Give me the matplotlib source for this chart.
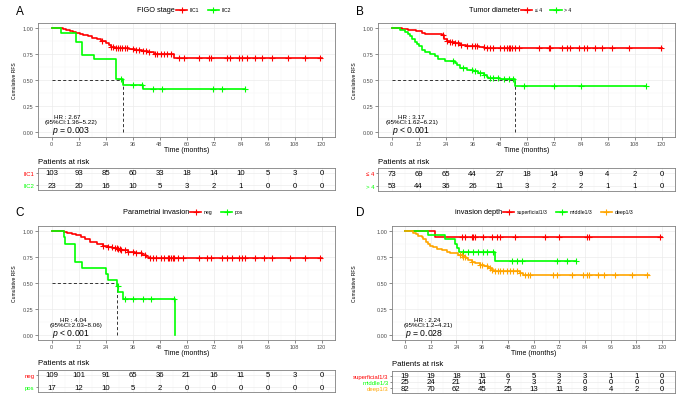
import numpy as np
import matplotlib.pyplot as plt
from matplotlib.lines import Line2D

plt.rcParams['font.family'] = ['Liberation Sans', 'DejaVu Sans']
plt.rcParams['mathtext.fontset'] = 'custom'
plt.rcParams['mathtext.it'] = 'Liberation Sans:italic'
plt.rcParams['mathtext.rm'] = 'Liberation Sans'

W, H = 685, 402
RED, GREEN, ORANGE = '#FF0000', '#00FF00', '#FFA500'
TIME_TICKS = [0, 12, 24, 36, 48, 60, 72, 84, 96, 108, 120]

# ---- A: FIGO stage ----
a_labels = ['IIC1', 'IIC2']
a_iic1_t = [0, 5, 6.5, 8, 9.5, 11, 12.5, 14, 16, 18, 20, 22, 24, 25.5, 26.5, 28, 34.5, 37, 40, 43, 45.5, 54.5]
a_iic1_s = [1.0, .99, .98, .97, .96, .95, .94, .93, .92, .91, .90, .88, .86, .84, .82, .81, .80, .79, .78, .77, .75, .71]
a_iic1_end = 120
a_iic1_cens = [22.5, 26.5, 27.5, 28.5, 29.5, 30.5, 31.5, 32.5, 33.5, 36, 37.5, 39, 40.5, 42, 43.5,
               45.8, 47, 48.5, 50, 51.5, 53, 56.7, 58.9, 65.5, 70, 70.7, 78, 79.5, 83.2, 84.7, 86.9,
               90.6, 93.5, 97.9, 105.3, 112.7, 119.3]
a_iic2_t = [0, 4, 11, 13.5, 19, 28.8, 31.7, 40.5]
a_iic2_s = [1.0, .957, .87, .74, .70, .51, .455, .41]
a_iic2_end = 86.2
a_iic2_cens = [30.9, 36.2, 40.2, 45, 49, 71.6, 75.8, 86.2]
a_risk_iic1 = [103, 93, 85, 60, 33, 18, 14, 10, 5, 3, 0]
a_risk_iic2 = [23, 20, 16, 10, 5, 3, 2, 1, 0, 0, 0]
a_hr = ['HR : 2.67', '(95%CI:1.36\u22125.22)']
a_p = '$p$ = 0.003'

# ---- B: Tumor diameter ----
b_labels = ['\u2264 4', '> 4']
b_le4_t = [0, 4.5, 7.5, 11, 13.5, 15, 22.5, 23.5, 24.5, 26, 28, 30.5, 33, 39, 41]
b_le4_s = [1.0, .99, .98, .97, .95, .94, .93, .90, .88, .865, .855, .84, .83, .82, .808]
b_le4_end = 120
b_le4_cens = [23, 24.5, 26, 27, 28, 29.5, 31, 33.4, 35.7, 37.1, 37.9, 40.9, 42.3, 43.8, 45.3, 48.3,
              49.8, 51.3, 52, 52.7, 53.5, 55, 56.5, 65.4, 69.8, 70.6, 75.8, 78, 79.5, 83.2, 85.4,
              86.9, 90.6, 93.6, 98, 105.5, 119.6]
b_gt4_t = [0, 3.7, 5.9, 7.4, 8.2, 8.9, 10.4, 11.4, 12.2, 13.4, 14.9, 17.1, 19.3, 20.8, 23.8, 28.2,
           29, 30.5, 33.4, 36.4, 38.6, 40.9, 42.3, 43.1, 48, 55]
b_gt4_s = [1.0, .98, .96, .94, .92, .90, .87, .85, .83, .79, .77, .755, .73, .70, .68, .66,
           .64, .62, .60, .585, .57, .55, .53, .52, .51, .44]
b_gt4_end = 113
b_gt4_cens = [27.5, 31.9, 35.7, 37.1, 39.4, 40.9, 43.8, 45.3, 47.5, 49.8, 52, 54.2, 58.7, 72, 84, 113]
b_risk_le4 = [73, 69, 65, 44, 27, 18, 14, 9, 4, 2, 0]
b_risk_gt4 = [53, 44, 36, 26, 11, 3, 2, 2, 1, 1, 0]
b_hr = ['HR : 3.17', '(95%CI:1.62\u22126.21)']
b_p = '$p$ < 0.001'

# ---- C: Parametrial invasion ----
c_labels = ['neg', 'pos']
c_neg_t = [0, 5.5, 7, 9, 11, 13, 15, 17, 20, 23, 25, 27, 29, 31, 34, 37, 40, 42, 43.5]
c_neg_s = [1.0, .99, .98, .97, .96, .94, .92, .90, .88, .86, .85, .835, .825, .815, .80, .79, .775, .755, .737]
c_neg_end = 120
c_neg_cens = [23.1, 25.3, 26.7, 28.2, 28.9, 29.7, 30.4, 31.1, 32.6, 34.1, 36.3, 37.7, 39.9, 41.4,
              43.6, 45.1, 46.5, 48.8, 50.2, 51.7, 52.4, 53.2, 53.9, 54.6, 56.1, 58.3, 65.6, 69.3,
              70.8, 75.9, 78.1, 80.3, 83.3, 84.7, 86.2, 90.6, 94.3, 97.9, 106, 112.6, 119.2]
c_pos_t = [0, 5.4, 6.2, 10.6, 13.5, 24.1, 25, 28.9, 29.7, 31.9, 55]
c_pos_s = [1.0, .94, .88, .70, .645, .59, .53, .47, .41, .35, 0.0]
c_pos_end = 55
c_pos_cens = [29.4, 32.6, 36.3, 40.7, 44.3, 54.3]
c_risk_neg = [109, 101, 91, 65, 36, 21, 16, 11, 5, 3, 0]
c_risk_pos = [17, 12, 10, 5, 2, 0, 0, 0, 0, 0, 0]
c_hr = ['HR : 4.04', '(95%CI:2.03\u22128.06)']
c_p = '$p$ < 0.001'

# ---- D: Invasion depth ----
d_labels = ['superficial1/3', 'middle1/3', 'deep1/3']
d_sup_t = [0, 14]
d_sup_s = [1.0, .947]
d_sup_end = 120
d_sup_cens = [26.5, 28, 31.2, 31.9, 32.7, 36.6, 40.5, 42.8, 44.4, 51.4, 65.4, 71.7, 84.9, 85.7, 119.2]
d_mid_t = [0, 10.9, 18.7, 23.4, 24.1, 25.4, 42]
d_mid_s = [1.0, .96, .92, .88, .84, .80, .71]
d_mid_end = 79.9
d_mid_cens = [27.3, 29.6, 31.9, 34.3, 36.6, 38.2, 41.3, 49.8, 52.2, 54.5, 70.9, 75.5, 79.9]
d_deep_t = [0, 3.9, 5.1, 6.2, 7.8, 8.6, 9.8, 10.9, 11.7, 13.2, 14.8, 17.1, 19.5, 21, 24.9, 27.3,
            28.5, 29.6, 31.2, 32.7, 35, 36.9, 38.9, 40.5, 41.6, 53.5, 55]
d_deep_s = [1.0, .985, .97, .955, .94, .92, .90, .88, .86, .845, .83, .815, .80, .785, .77, .755,
            .74, .72, .70, .69, .675, .66, .645, .63, .615, .60, .58]
d_deep_end = 113.7
d_deep_cens = [25.7, 26.5, 27.3, 28, 31.2, 35, 35.8, 38.2, 39.7, 40.5, 42.1, 43.6, 44.4, 45.9, 47.5,
               49.1, 50.6, 52.2, 53.7, 56.1, 57.6, 58.4, 69.3, 70.9, 77.9, 83.3, 84.9, 85.7, 90.3,
               92.7, 98.1, 105.9, 112.9]
d_risk_sup = [19, 19, 18, 11, 6, 5, 3, 3, 1, 1, 0]
d_risk_mid = [25, 24, 21, 14, 7, 3, 2, 0, 0, 0, 0]
d_risk_deep = [82, 70, 62, 45, 25, 13, 11, 8, 4, 2, 0]
d_hr = ['HR : 2.24', '(95%CI:1.2\u22124.21)']
d_p = '$p$ = 0.028'

PANELS = [
    dict(letter='A', title='FIGO stage', labels=a_labels, colors=[RED, GREEN],
         groups=[(a_iic1_t, a_iic1_s, a_iic1_end, a_iic1_cens), (a_iic2_t, a_iic2_s, a_iic2_end, a_iic2_cens)],
         risk=[a_risk_iic1, a_risk_iic2], hr=a_hr, p=a_p, hr_x=(7, 8.8),
         plot=(38, 24, 335, 138), table=(38, 169, 335, 191), letter_xy=(20, 12), leg=(176, 11), ylab_x=15),
    dict(letter='B', title='Tumor diameter', labels=b_labels, colors=[RED, GREEN],
         groups=[(b_le4_t, b_le4_s, b_le4_end, b_le4_cens), (b_gt4_t, b_gt4_s, b_gt4_end, b_gt4_cens)],
         risk=[b_risk_le4, b_risk_gt4], hr=b_hr, p=b_p, hr_x=(9, 9),
         plot=(378, 24, 675, 138), table=(378, 169, 675, 192), letter_xy=(360, 12), leg=(521, 11), ylab_x=355),
    dict(letter='C', title='Parametrial invasion', labels=c_labels, colors=[RED, GREEN],
         groups=[(c_neg_t, c_neg_s, c_neg_end, c_neg_cens), (c_pos_t, c_pos_s, c_pos_end, c_pos_cens)],
         risk=[c_risk_neg, c_risk_pos], hr=c_hr, p=c_p, hr_x=(9.5, 10.8),
         plot=(38, 227, 335, 341), table=(38, 371, 335, 393), letter_xy=(20, 213), leg=(190, 213), ylab_x=15),
    dict(letter='D', title='invasion depth', labels=d_labels, colors=[RED, GREEN, ORANGE],
         groups=[(d_sup_t, d_sup_s, d_sup_end, d_sup_cens), (d_mid_t, d_mid_s, d_mid_end, d_mid_cens),
                 (d_deep_t, d_deep_s, d_deep_end, d_deep_cens)],
         risk=[d_risk_sup, d_risk_mid, d_risk_deep], hr=d_hr, p=d_p, hr_x=(10.3, 10.9),
         plot=(392, 227, 675, 341), table=(392, 372, 675, 394), letter_xy=(360, 213), leg=(503, 213), ylab_x=355),
]

fig = plt.figure(figsize=(W / 100, H / 100), dpi=100)


def rect(l, t, r, b):
    return [l / W, 1 - b / H, (r - l) / W, (b - t) / H]


def ftext(x, y, s, **kw):
    fig.text(x / W, 1 - y / H, s, **kw)


def step_value(t, s, x):
    i = np.searchsorted(t, x, side='right') - 1
    return np.asarray(s)[i]


def style_axes(ax):
    ax.set_xlim(-6, 126)
    ax.set_xticks(TIME_TICKS)
    ax.set_xticks(np.arange(6, 120, 12), minor=True)
    ax.set_axisbelow(True)
    ax.grid(which='major', color='#EBEBEB', lw=0.5)
    ax.grid(which='minor', color='#F5F5F5', lw=0.3)
    ax.tick_params(which='minor', length=0)
    for sp in ax.spines.values():
        sp.set_color('#808080')
        sp.set_linewidth(0.6)


for P in PANELS:
    # --- KM plot ---
    ax = fig.add_axes(rect(*P['plot']))
    style_axes(ax)
    ax.set_ylim(-0.05, 1.05)
    ax.set_yticks([0, 0.25, 0.5, 0.75, 1.0])
    ax.set_yticks([0.125, 0.375, 0.625, 0.875], minor=True)
    ax.set_yticklabels(['0.00', '0.25', '0.50', '0.75', '1.00'])
    ax.tick_params(which='major', length=2, width=0.4, color='#333333', labelsize=4,
                   labelcolor='#4D4D4D', pad=1.2)

    for (t, s, end, cens), c in zip(P['groups'], P['colors']):
        ax.step(np.append(t, end), np.append(s, s[-1]), where='post', color=c, lw=1.2, zorder=3)
        ax.plot(cens, step_value(t, s, cens), ls='none', marker='+', ms=3.8, mew=0.8,
                color=c, zorder=4)

    # median survival line
    for t, s, end, cens in P['groups']:
        s = np.asarray(s)
        if s.min() <= 0.5:
            tm = np.asarray(t)[np.argmax(s <= 0.5)]
            ax.plot([0, tm], [0.5, 0.5], color='black', lw=0.55, ls=(0, (4, 3)), zorder=2)
            ax.plot([tm, tm], [0, 0.5], color='black', lw=0.55, ls=(0, (4, 3)), zorder=2)

    ax.text(P['hr_x'][0], 0.152, P['hr'][0], ha='center', va='center', fontsize=4.5)
    ax.text(P['hr_x'][1], 0.095, P['hr'][1], ha='center', va='center', fontsize=4.5)
    ax.text(0, 0.02, P['p'], ha='left', va='center', fontsize=6.2)

    l, t0, r, b = P['plot']
    ftext((l + r) / 2, b + 12.5, 'Time (months)', ha='center', va='center', fontsize=5)
    ftext(P['ylab_x'], (t0 + b) / 2, 'Cumulative RFS', ha='center', va='center',
          rotation=90, fontsize=3.6)
    ftext(*P['letter_xy'], P['letter'], ha='center', va='center', fontsize=8.5)

    # legend
    lx, ly = P['leg']
    ftext(lx - 1, ly, P['title'], ha='right', va='center', fontsize=5.3)
    handles = [Line2D([], [], color=c, lw=1.2, marker='+', ms=3.8, mew=0.8) for c in P['colors']]
    fig.legend(handles, P['labels'], loc='center left', bbox_to_anchor=(lx / W, 1 - ly / H),
               ncol=len(handles), frameon=False, fontsize=3.7, handlelength=2.2,
               handletextpad=0.5, columnspacing=1.6, borderpad=0, borderaxespad=0)

    # --- risk table ---
    tax = fig.add_axes(rect(*P['table']))
    style_axes(tax)
    n = len(P['risk'])
    pad = 0.6 if n == 2 else 0.25
    tax.set_ylim(n + 1 - pad, pad)
    tax.set_yticks(range(1, n + 1))
    tax.set_yticklabels(P['labels'])
    for lab, c in zip(tax.get_yticklabels(), P['colors']):
        lab.set_color(c)
    tax.set_xticklabels([])
    tax.tick_params(axis='x', which='both', length=0)
    tax.tick_params(axis='y', length=1.5, width=0.4, color='#333333', labelsize=4.3, pad=1)
    for i, row in enumerate(P['risk']):
        for tk, v in zip(TIME_TICKS, row):
            tax.text(tk, i + 1, str(v), ha='center', va='center', fontsize=5.6, color='black')
    tl, tt, tr, tb = P['table']
    ftext(tl, tt - 7, 'Patients at risk', ha='left', va='center', fontsize=5.6)

fig.savefig('out.png', dpi=100)
